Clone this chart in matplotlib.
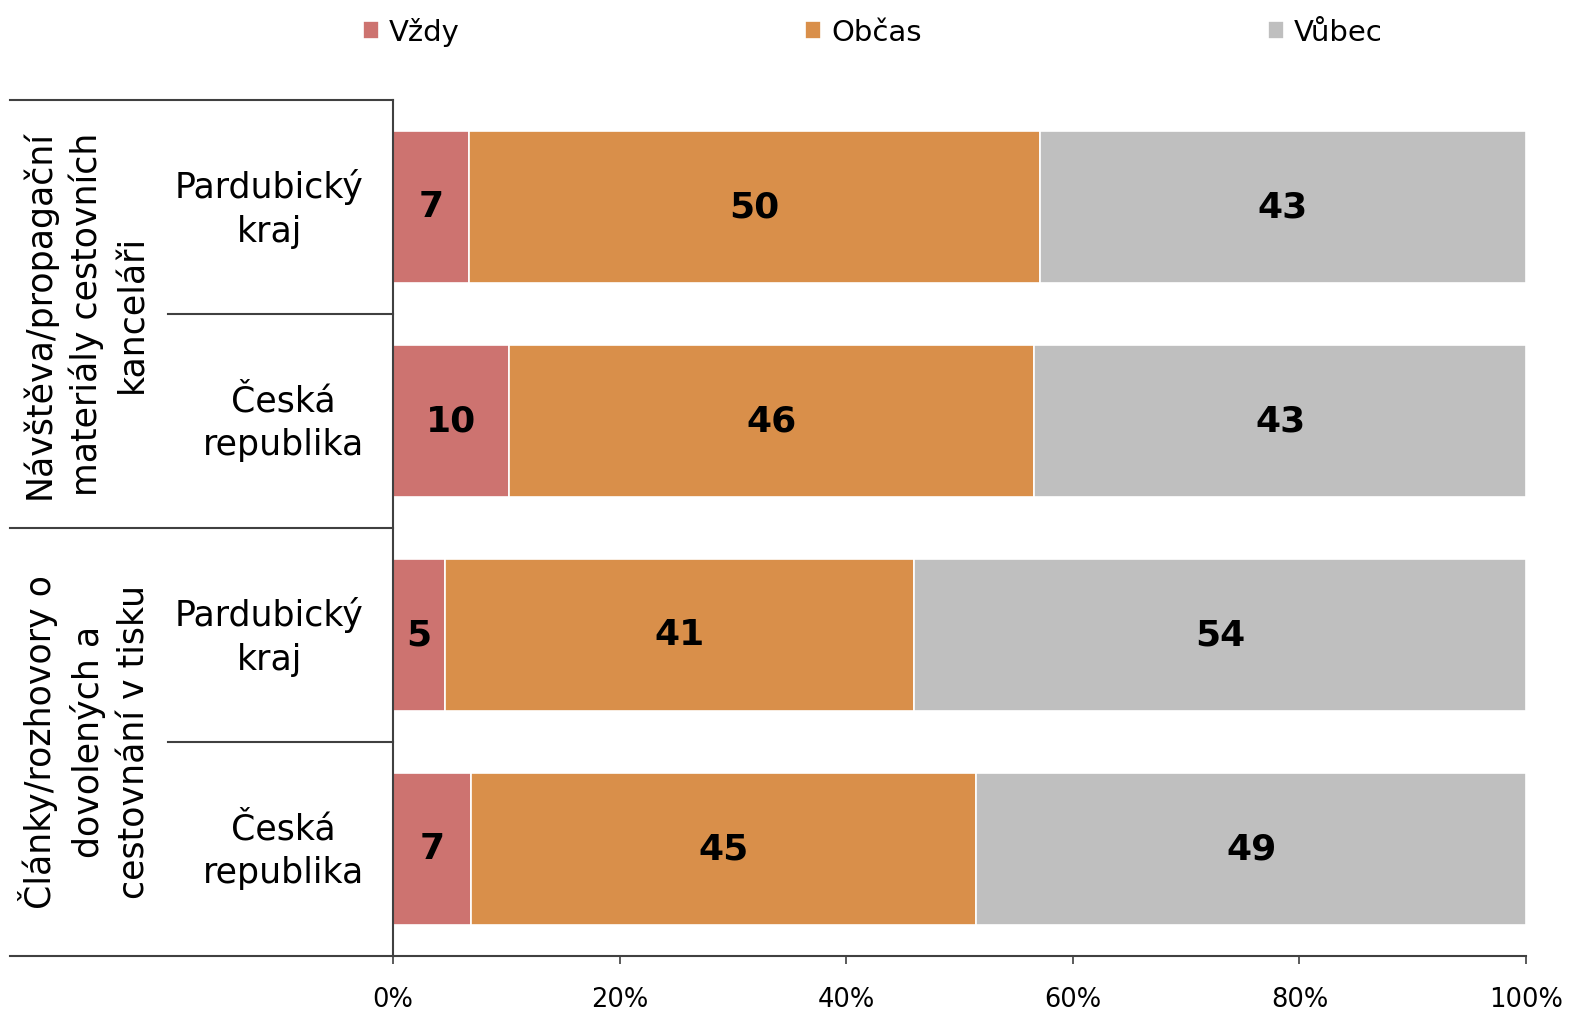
import matplotlib
matplotlib.use("Agg")
import matplotlib.pyplot as plt
from matplotlib.lines import Line2D
from matplotlib.ticker import FuncFormatter
from matplotlib.transforms import ScaledTranslation

plt.rcParams['font.family'] = ['DejaVu Sans']

# data (percent)
rows = ["Pardubický\nkraj", "Česká\nrepublika", "Pardubický\nkraj", "Česká\nrepublika"]
groups = ["Návštěva/propagační\nmateriály cestovních\nkanceláři",
          "Články/rozhovory o\ndovolených a\ncestovnání v tisku"]
series = ["Vždy", "Občas", "Vůbec"]
vzdy = [6.7, 10.2, 4.6, 6.9]
obcas = [50.4, 46.4, 41.4, 44.6]
vubec = [42.9, 43.4, 54.0, 48.5]
colors = ["#CD7370", "#D98F4A", "#BFBFBF"]

fig = plt.figure(figsize=(15.74, 10.14), dpi=100)
ax = fig.add_axes([393/1574, 1-956/1014, 1133/1574, 856/1014])

ypos = list(range(len(rows)))
left = [0.0]*len(rows)
for name, vals, c in zip(series, [vzdy, obcas, vubec], colors):
    ax.barh(ypos, vals, left=left, height=0.706, color=c,
            edgecolor='white', linewidth=1.2, label=name)
    for y, l, v in zip(ypos, left, vals):
        ax.text(l + v/2., y, "%d" % int(v + 0.5), ha='center', va='center',
                fontsize=26, fontweight='bold', color='black')
    left = [a + b for a, b in zip(left, vals)]

ax.set_xlim(0, 100)
ax.set_ylim(3.5, -0.5)
ax.set_xticks([0, 20, 40, 60, 80, 100])
ax.xaxis.set_major_formatter(FuncFormatter(lambda v, p: "%d%%" % v))
ax.tick_params(axis='x', direction='out', length=6, width=1.2, color='#404040',
               labelsize=18.5, pad=16)
ax.set_yticks(ypos)
ax.set_yticklabels(rows, fontsize=25, multialignment='center', linespacing=1.36)
ax.tick_params(axis='y', length=0, pad=21)
for lab in ax.get_yticklabels():
    lab.set_transform(lab.get_transform() + ScaledTranslation(0, 0.065, fig.dpi_scale_trans))

for s in ['top', 'right']:
    ax.spines[s].set_visible(False)
for s in ['left', 'bottom']:
    ax.spines[s].set_color('#404040')
    ax.spines[s].set_linewidth(1.5)

# separator lines left of the axes
tr = ax.get_yaxis_transform()
x_far = (10 - 393) / 1133.
x_near = (168 - 393) / 1133.
for y in [-0.5, 1.5, 3.5]:
    ax.add_line(Line2D([x_far, 0], [y, y], transform=tr, color='#404040',
                       lw=1.5, clip_on=False))
for y in [0.5, 2.5]:
    ax.add_line(Line2D([x_near, 0], [y, y], transform=tr, color='#404040',
                       lw=1.5, clip_on=False))

# group labels
x_grp = (85 - 393) / 1133.
for i, g in enumerate(groups):
    ax.text(x_grp, 0.5 + 2*i, g, transform=tr, rotation=90, ha='center',
            va='center', multialignment='center', fontsize=25, linespacing=1.42)

leg = fig.legend(loc='upper left', bbox_to_anchor=(345/1574, 1.0), ncol=3,
                 frameon=False, fontsize=21, handlelength=0.55, handleheight=0.55,
                 handletextpad=0.35, columnspacing=11.85, borderaxespad=0.2)

plt.savefig("out.png", dpi=100)
